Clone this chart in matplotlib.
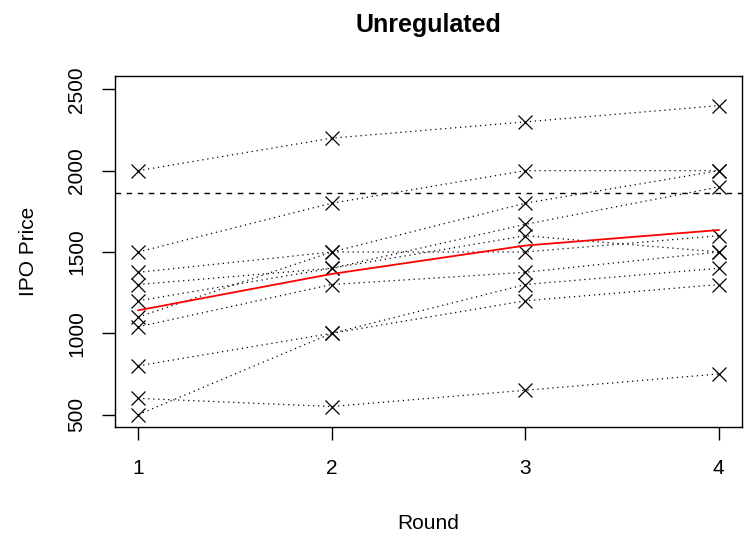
import numpy as np
import matplotlib
matplotlib.use('Agg')
import matplotlib.pyplot as plt

plt.rcParams['font.family'] = ['Liberation Sans', 'DejaVu Sans']

rounds = [1, 2, 3, 4]

# one list per subject, prices for rounds 1..4
s_a = [2000, 2200, 2300, 2400]
s_b = [1500, 1800, 2000, 2000]
s_c = [1375, 1500, 1800, 2000]
s_d = [1300, 1400, 1670, 1900]
s_e = [1200, 1400, 1600, 1500]
s_f = [1100, 1500, 1500, 1600]
s_g = [1040, 1300, 1375, 1500]
s_h = [800, 1000, 1300, 1400]
s_i = [600, 550, 650, 750]
s_j = [500, 1000, 1200, 1300]
subjects = [s_a, s_b, s_c, s_d, s_e, s_f, s_g, s_h, s_i, s_j]

ref_price = 1860

yticks = [500, 1000, 1500, 2000, 2500]

fig = plt.figure(figsize=(7.44, 5.35), dpi=100)
ax = fig.add_axes([115/744, 1-427/535, (742-115)/744, (427-76)/535])

for s in subjects:
    ax.plot(rounds, s, color='black', lw=0.9, linestyle=(0, (1, 3)))
    ax.plot(rounds, s, 'x', color='black', ms=9.5, mew=0.9, linestyle='none')

mean_price = np.mean(np.array(subjects), axis=0)
ax.plot(rounds, mean_price, color='red', lw=1.3)

ax.axhline(ref_price, color='black', lw=1, linestyle=(0, (4, 4)))

ax.set_xlim(0.88, 4.12)
ax.set_ylim(424, 2582)
ax.set_xticks(rounds)
ax.set_yticks(yticks)
ax.set_yticklabels([str(v) for v in yticks], rotation=90, va='center')
ax.tick_params(axis='both', length=9.4, width=1, labelsize=15)
ax.tick_params(axis='x', pad=13.5)
ax.tick_params(axis='y', pad=11.5)

for sp in ax.spines.values():
    sp.set_linewidth(1)

ax.set_xlabel('Round', fontsize=15, labelpad=26)
ax.set_ylabel('IPO Price', fontsize=15, labelpad=21)
fig.text(428.5/744, 1-25/535, 'Unregulated', fontsize=18, fontweight='bold',
         ha='center', va='center')

fig.savefig('out.png', dpi=100)
